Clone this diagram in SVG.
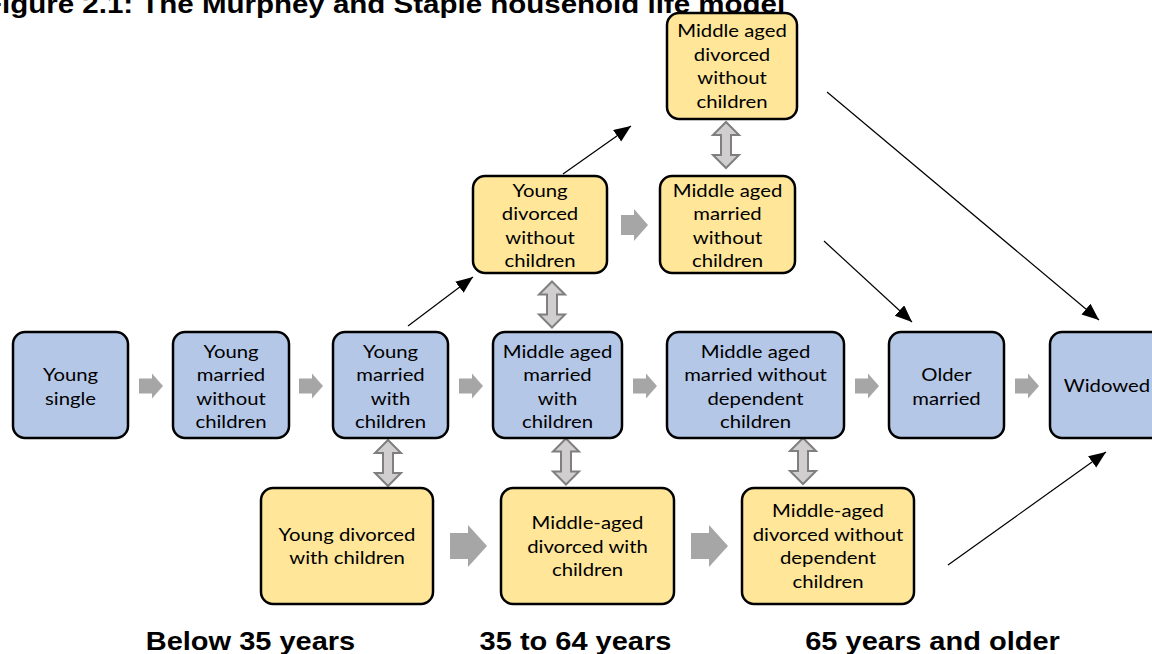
<svg xmlns="http://www.w3.org/2000/svg" width="1152" height="654" viewBox="0 0 1152 654">
  <style>
    .box { stroke: #000; stroke-width: 2.5; }
    .blue { fill: #B4C7E7; }
    .yellow { fill: #FFE699; }
    .lbl { font-family: Lato, "Liberation Sans", sans-serif; font-size: 17.5px; fill: #000; text-anchor: middle; }
    .hdr { font-family: "Liberation Sans", Arial, sans-serif; font-weight: bold; font-size: 25px; fill: #000; }
    .flow { fill: #A6A6A6; }
    .swap { fill: #D0CECE; stroke: #7F7F7F; stroke-width: 2; }
    .link { stroke: #000; stroke-width: 1.2; fill: none; marker-end: url(#head); }
  </style>
  <defs>
    <marker id="head" markerUnits="userSpaceOnUse" markerWidth="20" markerHeight="16" refX="17" refY="7" orient="auto">
      <path d="M0,0 L17,7 L0,14 Z" fill="#000"/>
    </marker>
    <!-- block arrows, drawn from their tail at the origin -->
    <path id="step-s" d="M0,-7.5 H13 V-12.5 L24,0 L13,12.5 V7.5 H0 Z"/>
    <path id="step-m" d="M0,-10 H13 V-16 L27,0 L13,16 V10 H0 Z"/>
    <path id="step-l" d="M0,-13 H18 V-21 L37,0 L18,21 V13 H0 Z"/>
    <!-- two-headed vertical arrow, centred on the origin -->
    <path id="swap" d="M0,-23 L13,-10 H5 V10 H13 L0,23 L-13,10 H-5 V-10 H-13 Z"/>
  </defs>

  <!-- title and age bands -->
  <text class="hdr" transform="translate(-16 13) scale(1.18 1)" x="0" y="0">Figure 2.1: The Murphey and Staple household life model</text>
  <text class="hdr" text-anchor="middle" transform="translate(250.5 650) scale(1.16 1)" x="0" y="0">Below 35 years</text>
  <text class="hdr" text-anchor="middle" transform="translate(575.5 650) scale(1.16 1)" x="0" y="0">35 to 64 years</text>
  <text class="hdr" text-anchor="middle" transform="translate(932.5 650) scale(1.16 1)" x="0" y="0">65 years and older</text>

  <!-- connectors -->
  <g id="connectors">
    <g class="flow">
      <use href="#step-s" x="139" y="386"/>
      <use href="#step-s" x="299" y="386"/>
      <use href="#step-s" x="459" y="386"/>
      <use href="#step-s" x="633" y="386"/>
      <use href="#step-s" x="855" y="386"/>
      <use href="#step-s" x="1015" y="386"/>
      <use href="#step-m" x="621" y="225"/>
      <use href="#step-l" x="450" y="546"/>
      <use href="#step-l" x="691" y="546"/>
    </g>
    <g class="swap">
      <use href="#swap" x="726" y="145"/>
      <use href="#swap" x="552" y="304.5"/>
      <use href="#swap" x="388" y="463"/>
      <use href="#swap" x="566" y="461.5"/>
      <use href="#swap" x="803" y="461"/>
    </g>
    <line class="link" x1="408" y1="326" x2="473" y2="277"/>
    <line class="link" x1="563" y1="174" x2="631" y2="126"/>
    <line class="link" x1="827" y1="92" x2="1099" y2="320"/>
    <line class="link" x1="824" y1="241" x2="912" y2="322"/>
    <line class="link" x1="948" y1="565" x2="1106" y2="452"/>
  </g>

  <!-- married / single path -->
  <g id="young-single">
    <rect class="box blue" x="13" y="332" width="115" height="106" rx="12"/>
    <text class="lbl" transform="translate(70.5 0) scale(1.16 1)"><tspan x="0" y="381.5">Young</tspan><tspan x="0" y="405">single</tspan></text>
  </g>
  <g id="young-married-no-children">
    <rect class="box blue" x="173" y="332" width="116" height="106" rx="12"/>
    <text class="lbl" transform="translate(231 0) scale(1.16 1)"><tspan x="0" y="358">Young</tspan><tspan x="0" y="381.5">married</tspan><tspan x="0" y="405">without</tspan><tspan x="0" y="428.5">children</tspan></text>
  </g>
  <g id="young-married-children">
    <rect class="box blue" x="333" y="332" width="115" height="106" rx="12"/>
    <text class="lbl" transform="translate(390.5 0) scale(1.16 1)"><tspan x="0" y="358">Young</tspan><tspan x="0" y="381.5">married</tspan><tspan x="0" y="405">with</tspan><tspan x="0" y="428.5">children</tspan></text>
  </g>
  <g id="middle-married-children">
    <rect class="box blue" x="493" y="332" width="129" height="106" rx="12"/>
    <text class="lbl" transform="translate(557.5 0) scale(1.16 1)"><tspan x="0" y="358">Middle aged</tspan><tspan x="0" y="381.5">married</tspan><tspan x="0" y="405">with</tspan><tspan x="0" y="428.5">children</tspan></text>
  </g>
  <g id="middle-married-no-dependents">
    <rect class="box blue" x="667" y="332" width="177" height="106" rx="12"/>
    <text class="lbl" transform="translate(755.5 0) scale(1.16 1)"><tspan x="0" y="358">Middle aged</tspan><tspan x="0" y="381.5">married without</tspan><tspan x="0" y="405">dependent</tspan><tspan x="0" y="428.5">children</tspan></text>
  </g>
  <g id="older-married">
    <rect class="box blue" x="889" y="332" width="115" height="106" rx="12"/>
    <text class="lbl" transform="translate(946.5 0) scale(1.16 1)"><tspan x="0" y="381.5">Older</tspan><tspan x="0" y="405">married</tspan></text>
  </g>
  <g id="widowed">
    <rect class="box blue" x="1050" y="332" width="115" height="106" rx="12"/>
    <text class="lbl" transform="translate(1107 0) scale(1.16 1)"><tspan x="0" y="392.5">Widowed</tspan></text>
  </g>

  <!-- divorce branches -->
  <g id="middle-divorced-no-children">
    <rect class="box yellow" x="667" y="13" width="130" height="106" rx="12"/>
    <text class="lbl" transform="translate(732 0) scale(1.16 1)"><tspan x="0" y="37.5">Middle aged</tspan><tspan x="0" y="61">divorced</tspan><tspan x="0" y="84.5">without</tspan><tspan x="0" y="108">children</tspan></text>
  </g>
  <g id="young-divorced-no-children">
    <rect class="box yellow" x="473" y="176" width="134" height="97" rx="12"/>
    <text class="lbl" transform="translate(540 0) scale(1.16 1)"><tspan x="0" y="197">Young</tspan><tspan x="0" y="220.5">divorced</tspan><tspan x="0" y="244">without</tspan><tspan x="0" y="267.5">children</tspan></text>
  </g>
  <g id="middle-married-no-children">
    <rect class="box yellow" x="660" y="176" width="135" height="97" rx="12"/>
    <text class="lbl" transform="translate(727.5 0) scale(1.16 1)"><tspan x="0" y="197">Middle aged</tspan><tspan x="0" y="220.5">married</tspan><tspan x="0" y="244">without</tspan><tspan x="0" y="267.5">children</tspan></text>
  </g>
  <g id="young-divorced-children">
    <rect class="box yellow" x="261" y="488" width="172" height="116" rx="12"/>
    <text class="lbl" transform="translate(347 0) scale(1.16 1)"><tspan x="0" y="541">Young divorced</tspan><tspan x="0" y="564.5">with children</tspan></text>
  </g>
  <g id="middle-divorced-children">
    <rect class="box yellow" x="501" y="488" width="173" height="116" rx="12"/>
    <text class="lbl" transform="translate(587.5 0) scale(1.16 1)"><tspan x="0" y="529.5">Middle-aged</tspan><tspan x="0" y="553">divorced with</tspan><tspan x="0" y="576.5">children</tspan></text>
  </g>
  <g id="middle-divorced-no-dependents">
    <rect class="box yellow" x="742" y="488" width="172" height="116" rx="12"/>
    <text class="lbl" transform="translate(828 0) scale(1.16 1)"><tspan x="0" y="517.5">Middle-aged</tspan><tspan x="0" y="541">divorced without</tspan><tspan x="0" y="564.5">dependent</tspan><tspan x="0" y="588">children</tspan></text>
  </g>
</svg>
